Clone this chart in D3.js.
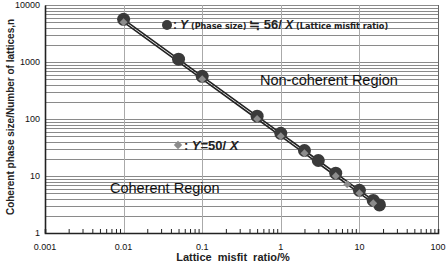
<!DOCTYPE html>
<html>
<head>
<meta charset="utf-8">
<script src="https://cdn.jsdelivr.net/npm/d3@7"></script>
<style>
  body { margin: 0; background: #fff; }
  svg { font-family: "Liberation Sans", Arial, sans-serif; }
</style>
</head>
<body>
<div id="chart"></div>
<script>
// data
var misfitCircles = [0.01, 0.05, 0.1, 0.5, 1, 2, 3, 5, 10, 15, 18];
var sizeCircles = [5600, 1120, 560, 112, 56, 28, 18.7, 11.2, 5.6, 3.73, 3.11];
var misfitDiamonds = [0.01, 0.1, 0.5, 1, 2, 5, 7, 10, 15];
var sizeDiamonds = [5000, 500, 100, 50, 25, 10, 7.14, 5, 3.33];
var xTicks = [0.001, 0.01, 0.1, 1, 10, 100];
var xTickLabels = ["0.001", "0.01", "0.1", "1", "10", "100"];
var yTicks = [1, 10, 100, 1000, 10000];
var yTickLabels = ["1", "10", "100", "1000", "10000"];

var W = 446, H = 264;
var pLeft = 45, pTop = 5, pRight = 438, pBottom = 233;

var svg = d3.select("#chart")
    .append("svg")
    .attr("width", W)
    .attr("height", H);

var x = d3.scaleLog().domain([0.001, 100]).range([pLeft, pRight]);
var y = d3.scaleLog().domain([1, 10000]).range([pBottom, pTop]);

// minor values for grid / ticks
function minors(lo, hi) {
    var out = [];
    for (var d = lo; d < hi * 0.999; d *= 10) {
        for (var k = 2; k <= 9; k++) out.push(d * k);
    }
    return out;
}

var g = svg.append("g");

// horizontal grid (every minor + major)
g.selectAll("line.hgrid")
    .data(minors(1, 10000).concat(yTicks.slice(1)))
    .enter().append("line")
    .attr("class", "hgrid")
    .attr("x1", pLeft).attr("x2", pRight)
    .attr("y1", function (d) { return Math.round(y(d)) + 0.5; })
    .attr("y2", function (d) { return Math.round(y(d)) + 0.5; })
    .attr("stroke", "#8a8a8a")
    .attr("stroke-width", 1);

// vertical grid at decades
g.selectAll("line.vgrid")
    .data(xTicks.slice(1))
    .enter().append("line")
    .attr("class", "vgrid")
    .attr("y1", pTop).attr("y2", pBottom)
    .attr("x1", function (d) { return Math.round(x(d)) + 0.5; })
    .attr("x2", function (d) { return Math.round(x(d)) + 0.5; })
    .attr("stroke", function (d) { return d === 100 ? "#666" : "#aaa"; })
    .attr("stroke-width", 1);

// axes
var xAxis = d3.axisBottom(x)
    .tickValues(minors(0.001, 100))
    .tickSize(-4)
    .tickFormat("");
g.append("g")
    .attr("transform", "translate(0," + pBottom + ")")
    .call(xAxis)
    .call(function (s) {
        s.select(".domain").attr("stroke", "#222").attr("stroke-width", 1.6);
        s.selectAll(".tick line").attr("stroke", "#222");
    });

g.append("g")
    .attr("transform", "translate(" + pLeft + ",0)")
    .call(d3.axisLeft(y).tickValues([]).tickSize(0))
    .call(function (s) {
        s.select(".domain").attr("stroke", "#222").attr("stroke-width", 1.6);
    });

// tick labels
g.selectAll("text.xl")
    .data(xTicks)
    .enter().append("text")
    .attr("x", function (d) { return x(d); })
    .attr("y", 250)
    .attr("text-anchor", "middle")
    .attr("font-size", 9)
    .attr("fill", "#111")
    .text(function (d, i) { return xTickLabels[i]; });

g.selectAll("text.yl")
    .data(yTicks)
    .enter().append("text")
    .attr("x", 40)
    .attr("y", function (d) { return y(d) + 3; })
    .attr("text-anchor", "end")
    .attr("font-size", 9)
    .attr("fill", "#111")
    .text(function (d, i) { return yTickLabels[i]; });

// fit lines (two close dark lines)
var line = d3.line()
    .x(function (d) { return x(d[0]); })
    .y(function (d) { return y(d[1]); });

var pairsC = misfitCircles.map(function (v, i) { return [v, sizeCircles[i]]; });
var pairsD = misfitDiamonds.map(function (v, i) { return [v, sizeDiamonds[i]]; });

g.append("path").datum(pairsC).attr("d", line)
    .attr("fill", "none").attr("stroke", "#222").attr("stroke-width", 1.6);
g.append("path").datum(pairsD).attr("d", line)
    .attr("fill", "none").attr("stroke", "#222").attr("stroke-width", 1.6);

// circles
g.selectAll("circle.c")
    .data(pairsC)
    .enter().append("circle")
    .attr("cx", function (d) { return x(d[0]); })
    .attr("cy", function (d) { return y(d[1]); })
    .attr("r", 6.5)
    .attr("fill", "#3a3a3a");

// diamonds
g.selectAll("path.d")
    .data(pairsD)
    .enter().append("path")
    .attr("transform", function (d) { return "translate(" + x(d[0]) + "," + y(d[1]) + ")"; })
    .attr("d", d3.symbol().type(d3.symbolDiamond2).size(40))
    .attr("fill", "#8c8c8c");

// legend 1
g.append("circle").attr("cx", 167).attr("cy", 25).attr("r", 5).attr("fill", "#3a3a3a");
var t1 = g.append("text").attr("x", 173).attr("y", 29).attr("fill", "#222").attr("font-weight", "bold");
t1.append("tspan").attr("font-size", 12).text(":");
t1.append("tspan").attr("font-size", 12).attr("font-style", "italic").text(" Y");
t1.append("tspan").attr("font-size", 9).attr("font-family", "'Liberation Sans Narrow', 'DejaVu Sans Condensed', sans-serif").text(" (Phase size) ");
t1.append("tspan").attr("font-size", 13).text("\u2252 56/");
t1.append("tspan").attr("font-size", 12).attr("font-style", "italic").text(" X");
t1.append("tspan").attr("font-size", 9).attr("font-family", "'Liberation Sans Narrow', 'DejaVu Sans Condensed', sans-serif").text(" (Lattice misfit ratio)");

// legend 2
g.append("path")
    .attr("transform", "translate(178,145)")
    .attr("d", d3.symbol().type(d3.symbolDiamond2).size(45))
    .attr("fill", "#8c8c8c");
var t2 = g.append("text").attr("x", 184).attr("y", 150).attr("fill", "#222").attr("font-weight", "bold").attr("font-size", 13);
t2.append("tspan").text(":");
t2.append("tspan").attr("font-style", "italic").text(" Y");
t2.append("tspan").text("=50/");
t2.append("tspan").attr("font-style", "italic").text(" X");

// region labels
g.append("text").attr("x", 260).attr("y", 85).attr("font-size", 14.5).attr("fill", "#111")
    .text("Non-coherent Region");
g.append("text").attr("x", 110).attr("y", 193).attr("font-size", 14.5).attr("fill", "#111")
    .text("Coherent Region");

// axis titles
g.append("text")
    .attr("transform", "translate(14,117)rotate(-90)")
    .attr("text-anchor", "middle")
    .attr("font-size", 10).attr("font-weight", "bold").attr("fill", "#222")
    .text("Coherent phase size/Number of  lattices,n");
g.append("text")
    .attr("x", 233).attr("y", 261)
    .attr("text-anchor", "middle")
    .attr("font-size", 11).attr("font-weight", "bold").attr("fill", "#222")
    .attr("word-spacing", 3)
    .text("Lattice misfit ratio/%");
</script>
</body>
</html>
